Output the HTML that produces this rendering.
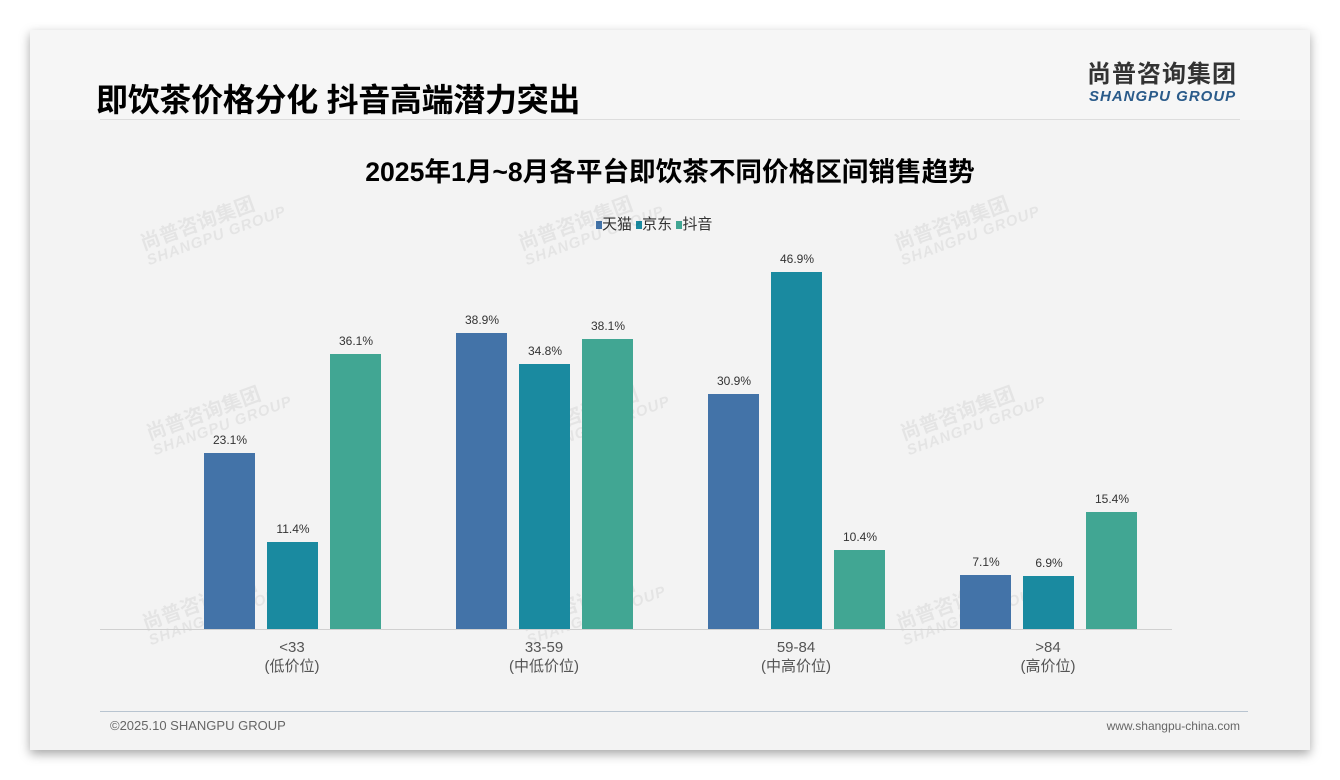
<!DOCTYPE html>
<html><head><meta charset="utf-8"><style>
body{margin:0;width:1340px;height:780px;background:#fff;position:relative;font-family:"Liberation Sans","Noto Sans CJK SC",sans-serif;overflow:hidden}
.card{position:absolute;left:30px;top:30px;width:1280px;height:720px;background:#f3f3f3;box-shadow:0 4px 10px rgba(0,0,0,0.35)}
.hdr{position:absolute;left:0;top:0;width:1280px;height:90px;background:#f6f6f6}
.t{position:absolute;color:#000;white-space:nowrap}
.bar{position:absolute;width:51px}
.lbl{position:absolute;width:80px;text-align:center;font-size:12px;color:#333}
.cat{position:absolute;width:160px;text-align:center;font-size:15px;color:#555;line-height:19px}
.wm{position:absolute;color:rgba(0,0,0,0.06);font-weight:bold;transform:rotate(-20deg);font-size:20px;line-height:18px}
.wm small{display:block;font-size:15px;font-style:italic;letter-spacing:1px}
</style></head><body>
<div class="card">
<div class="hdr"></div>
<div class="t" style="left:66px;top:45px;font-size:32px;font-weight:bold;letter-spacing:-0.3px">即饮茶价格分化 抖音高端潜力突出</div>
<div class="t" style="left:1057px;top:24px;font-size:24px;font-weight:bold;color:#333;letter-spacing:1px">尚普咨询集团</div>
<div class="t" style="left:1059px;top:58px;font-size:15px;font-weight:bold;font-style:italic;color:#2a5b8a;letter-spacing:1px">SHANGPU GROUP</div>
<div style="position:absolute;left:70px;top:89px;width:1140px;height:1px;background:#ddd"></div>
<div class="t" style="left:0;width:1280px;text-align:center;top:120px;font-size:26.6px;font-weight:bold">2025年1月~8月各平台即饮茶不同价格区间销售趋势</div>
<div class="t" style="left:566px;top:183px;font-size:15px;color:#333"><span style="display:inline-block;width:6px;height:8px;background:#4373a8"></span>天猫 <span style="display:inline-block;width:6px;height:8px;background:#1a8aa0"></span>京东 <span style="display:inline-block;width:6px;height:8px;background:#41a693"></span>抖音</div>
<div class="wm" style="left:110px;top:180px">尚普咨询集团<small>SHANGPU GROUP</small></div>
<div class="wm" style="left:488px;top:180px">尚普咨询集团<small>SHANGPU GROUP</small></div>
<div class="wm" style="left:864px;top:180px">尚普咨询集团<small>SHANGPU GROUP</small></div>
<div class="wm" style="left:116px;top:370px">尚普咨询集团<small>SHANGPU GROUP</small></div>
<div class="wm" style="left:494px;top:370px">尚普咨询集团<small>SHANGPU GROUP</small></div>
<div class="wm" style="left:870px;top:370px">尚普咨询集团<small>SHANGPU GROUP</small></div>
<div class="wm" style="left:112px;top:560px">尚普咨询集团<small>SHANGPU GROUP</small></div>
<div class="wm" style="left:490px;top:560px">尚普咨询集团<small>SHANGPU GROUP</small></div>
<div class="wm" style="left:866px;top:560px">尚普咨询集团<small>SHANGPU GROUP</small></div>
<div style="position:absolute;left:70px;top:599px;width:1072px;height:1px;background:#d0d0d0"></div>
<div style="position:absolute;left:70px;top:681px;width:1148px;height:1px;background:#b8c4d0"></div>
<div class="t" style="left:80px;top:688px;font-size:13px;color:#666">©2025.10 SHANGPU GROUP</div>
<div class="t" style="right:70px;top:689px;font-size:12px;color:#666">www.shangpu-china.com</div>
</div>
<div id="bars"></div>
<script>
(function(){
var d=[[23.1,11.4,36.1],[38.9,34.8,38.1],[30.9,46.9,10.4],[7.1,6.9,15.4]];
var c=["#4373a8","#1a8aa0","#41a693"];
var cats=[["&lt;33","(低价位)"],["33-59","(中低价位)"],["59-84","(中高价位)"],["&gt;84","(高价位)"]];
var h="";
for(var g=0;g<4;g++){for(var i=0;i<3;i++){var v=d[g][i],x=204+g*252+i*63,hh=Math.round(v*7.61),ty=629-hh;
h+='<div class="bar" style="left:'+x+'px;top:'+ty+'px;height:'+hh+'px;background:'+c[i]+'"></div>';
h+='<div class="lbl" style="left:'+(x-14)+'px;top:'+(ty-20)+'px">'+v.toFixed(1)+'%</div>';}
h+='<div class="cat" style="left:'+(212+g*252)+'px;top:638px">'+cats[g][0]+'<br>'+cats[g][1]+'</div>';}
document.getElementById("bars").innerHTML=h;
})();
</script>
</body></html>
